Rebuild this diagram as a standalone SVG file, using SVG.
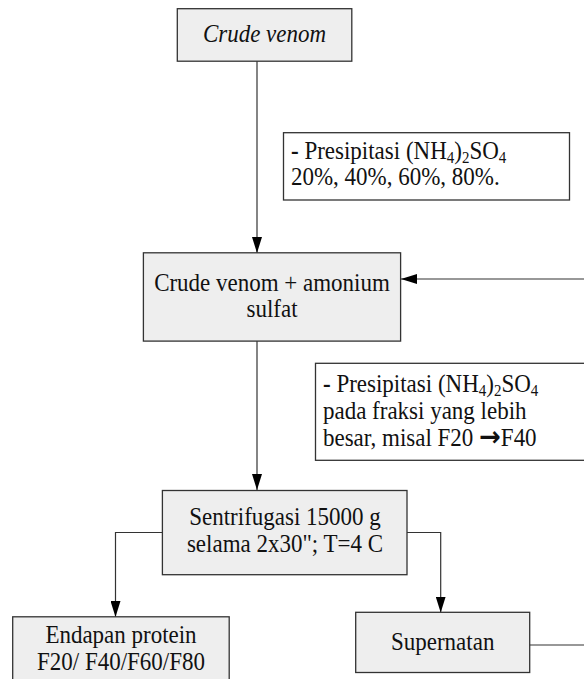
<svg xmlns="http://www.w3.org/2000/svg" width="584" height="679" viewBox="0 0 584 679">
<defs>
<style>
.box{fill:#eeeeee;stroke:#333333;stroke-width:1.3}
.note{fill:#ffffff;stroke:#333333;stroke-width:1.3}
.t{font-family:"Liberation Serif","Times New Roman",serif;font-size:23px;fill:#111111}
.c{text-anchor:middle}
.sub{font-size:15px;baseline-shift:-4px}
.arr{font-family:"DejaVu Sans",sans-serif;font-weight:bold;font-size:26px}
.conn{fill:none;stroke:#333333;stroke-width:1.2}
</style>
<marker id="ah" viewBox="0 0 16 10" refX="16" refY="5" markerWidth="16" markerHeight="10" markerUnits="userSpaceOnUse" orient="auto">
<path d="M0,0 L16,5 L0,10 Z" fill="#000000"/>
</marker>
</defs>
<rect width="584" height="679" fill="#ffffff"/>

<g id="connectors">
<path class="conn" d="M257,61 V253" marker-end="url(#ah)"/>
<path class="conn" d="M257,341 V490" marker-end="url(#ah)"/>
<path class="conn" d="M162.5,532.5 H115.5 V617" marker-end="url(#ah)"/>
<path class="conn" d="M407,532.5 H440.7 V612.5" marker-end="url(#ah)"/>
<path class="conn" d="M529.7,645 H595 V279 H401" marker-end="url(#ah)"/>
</g>

<g id="crude">
<rect class="box" x="177.3" y="8.7" width="174.5" height="52.5"/>
<text class="t c" x="264.5" y="42.5" font-style="italic" transform="translate(0,42.5) scale(1,1.07) translate(0,-42.5)">Crude venom</text>
</g>

<g id="note1">
<rect class="note" x="283.5" y="132.7" width="286" height="67.3"/>
<text class="t" x="291" y="159" transform="translate(0,159) scale(1,1.07) translate(0,-159)"><tspan font-weight="bold">-</tspan> Presipitasi (NH<tspan class="sub">4</tspan>)<tspan class="sub">2</tspan>SO<tspan class="sub">4</tspan></text>
<text class="t" x="291" y="185" transform="translate(0,185) scale(1,1.07) translate(0,-185)">20%, 40%, 60%, 80%.</text>
</g>

<g id="mix">
<rect class="box" x="143.4" y="252.8" width="257.2" height="88.3"/>
<text class="t c" x="272" y="291" transform="translate(0,291) scale(1,1.07) translate(0,-291)">Crude venom + amonium</text>
<text class="t c" x="272" y="317" transform="translate(0,317) scale(1,1.07) translate(0,-317)">sulfat</text>
</g>

<g id="note2">
<rect class="note" x="315.5" y="363.3" width="290" height="97"/>
<text class="t" x="323" y="392" transform="translate(0,392) scale(1,1.07) translate(0,-392)"><tspan font-weight="bold">-</tspan> Presipitasi (NH<tspan class="sub">4</tspan>)<tspan class="sub">2</tspan>SO<tspan class="sub">4</tspan></text>
<text class="t" x="323" y="419" transform="translate(0,419) scale(1,1.07) translate(0,-419)">pada fraksi yang lebih</text>
<text class="t" x="323" y="446" transform="translate(0,446) scale(1,1.07) translate(0,-446)">besar, misal F20 <tspan class="arr">→</tspan>F40</text>
</g>

<g id="centrifuge">
<rect class="box" x="162.4" y="490.5" width="244.6" height="84.2"/>
<text class="t c" x="285" y="525" transform="translate(0,525) scale(1,1.07) translate(0,-525)">Sentrifugasi 15000 g</text>
<text class="t c" x="285" y="552" transform="translate(0,552) scale(1,1.07) translate(0,-552)">selama 2x30"; T=4 C</text>
</g>

<g id="endapan">
<rect class="box" x="12.7" y="616.8" width="216.5" height="80"/>
<text class="t c" x="121" y="643" transform="translate(0,643) scale(1,1.07) translate(0,-643)">Endapan protein</text>
<text class="t c" x="121" y="670" transform="translate(0,670) scale(1,1.07) translate(0,-670)">F20/ F40/F60/F80</text>
</g>

<g id="supernatan">
<rect class="box" x="355.7" y="612.3" width="174" height="60.2"/>
<text class="t c" x="442.7" y="650" transform="translate(0,650) scale(1,1.07) translate(0,-650)">Supernatan</text>
</g>
</svg>
